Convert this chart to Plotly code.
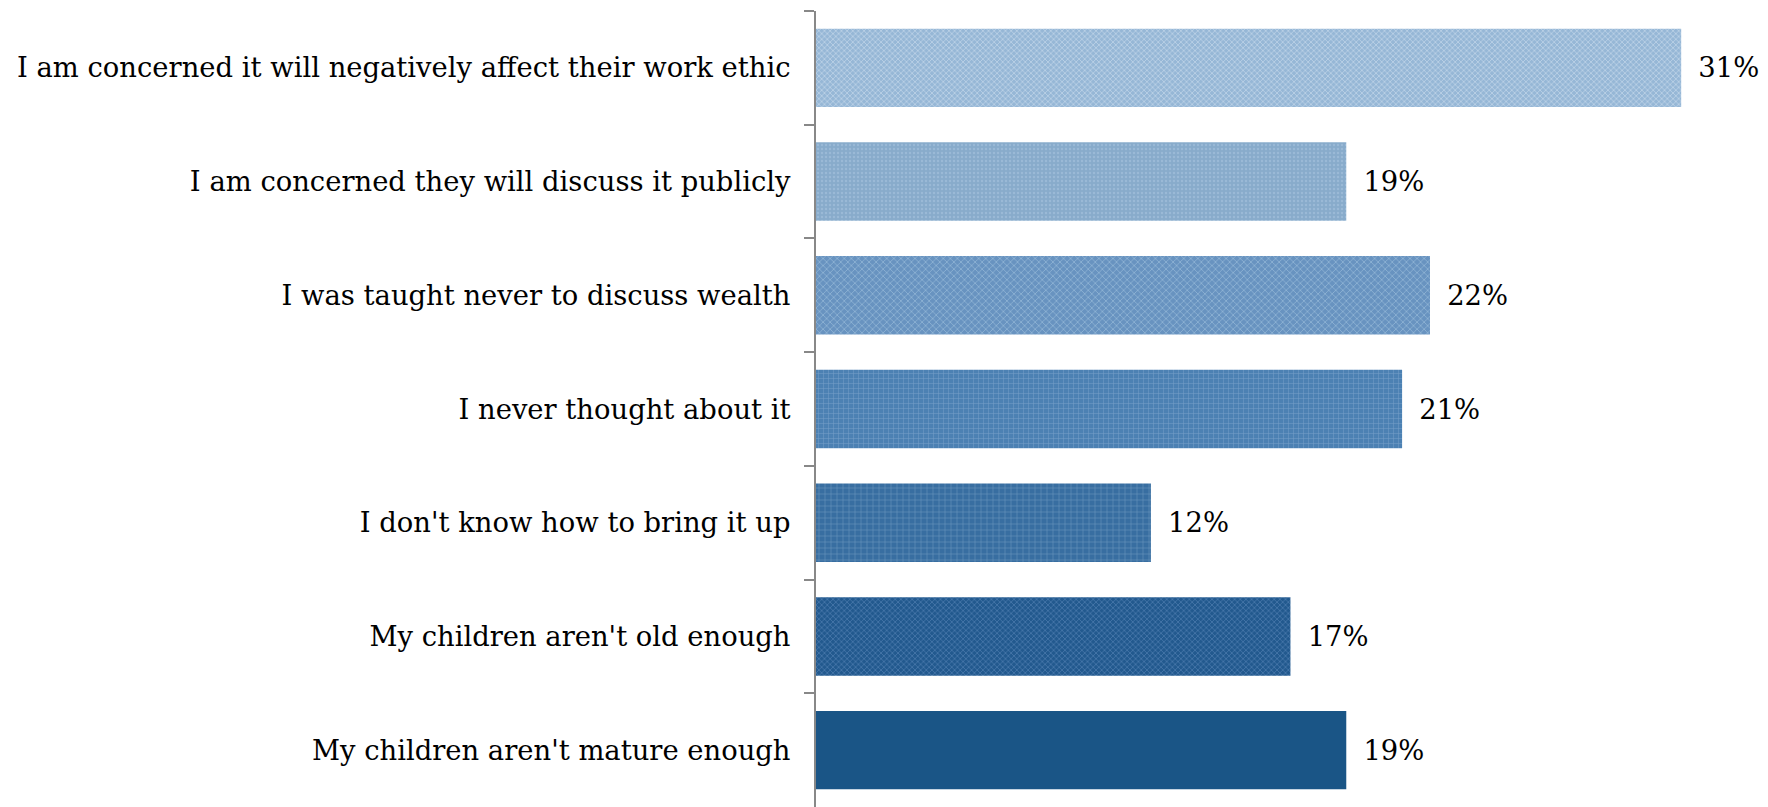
import plotly.graph_objects as go

categories = [
    "I am concerned it will negatively affect their work ethic",
    "I am concerned they will discuss it publicly",
    "I was taught never to discuss wealth",
    "I never thought about it",
    "I don't know how to bring it up",
    "My children aren't old enough",
    "My children aren't mature enough",
]
values = [31, 19, 22, 21, 12, 17, 19]

# base fill and texture for each bar, light to dark
bar_colors = ["#96b7d6", "#88abcb", "#6893c0", "#4c81b3", "#386ea1", "#22598e", "#1a5586"]
pattern_shapes = ["x", ".", "x", "+", "+", "x", ""]
pattern_fg = ["#dce9f5", "#a3c0dc", "#9cbedc", "#86abcf", "#7299c1", "#5c8bbb", "#1a5586"]
pattern_size = [4, 4, 5, 5, 6, 4, 4]
pattern_solidity = [0.3, 0.28, 0.32, 0.2, 0.22, 0.34, 0.3]

serif = "DejaVu Serif"
pad = "\u00a0\u2009"

fig = go.Figure()
for cat, val, col, shp, fg, sz, sol in zip(
    categories, values, bar_colors, pattern_shapes, pattern_fg, pattern_size, pattern_solidity
):
    fig.add_trace(
        go.Bar(
            x=[val],
            y=[cat],
            orientation="h",
            width=0.69,
            marker=dict(
                color=col,
                line=dict(width=0),
                pattern=dict(
                    shape=shp,
                    fgcolor=fg,
                    fgopacity=0.7,
                    size=sz,
                    solidity=sol,
                    fillmode="overlay",
                ),
            ),
            text=[f"{pad}{val}%"],
            textposition="outside",
            textfont=dict(family=serif, size=27.4, color="#000000"),
            cliponaxis=False,
            hoverinfo="skip",
        )
    )

fig.update_layout(
    width=1768,
    height=807,
    margin=dict(l=816, r=31, t=11, b=0),
    paper_bgcolor="#ffffff",
    plot_bgcolor="#ffffff",
    showlegend=False,
    barmode="overlay",
    font=dict(family=serif, size=27.4, color="#000000"),
)

fig.update_xaxes(
    range=[0, 33],
    visible=False,
    showgrid=False,
    zeroline=False,
)

fig.update_yaxes(
    categoryorder="array",
    categoryarray=categories,
    autorange="reversed",
    showline=True,
    linecolor="#888888",
    linewidth=2,
    ticks="outside",
    tickson="boundaries",
    ticklen=10,
    tickwidth=1.5,
    tickcolor="#888888",
    ticklabelstandoff=18,
    showgrid=False,
    tickfont=dict(family=serif, size=27.4, color="#000000"),
)

fig.write_html("out.html")
